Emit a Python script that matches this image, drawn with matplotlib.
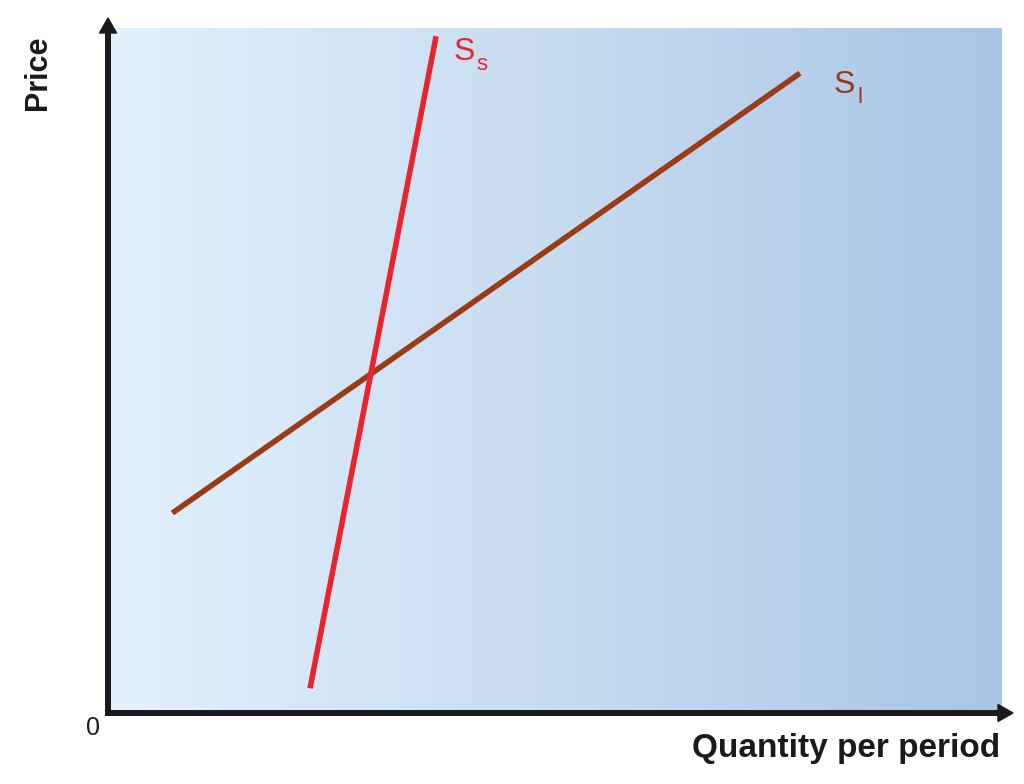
import matplotlib.pyplot as plt
import numpy as np
from matplotlib.colors import LinearSegmentedColormap
from matplotlib.patches import Polygon

plt.rcParams['font.family'] = ['Liberation Sans', 'DejaVu Sans']

# supply curves (arbitrary quantity / price units, 0-100)
ss_q = [22.6, 36.7]
ss_p = [3.6, 98.8]
sl_q = [7.2, 77.4]
sl_p = [29.2, 93.4]

RED = '#e8242e'
BROWN = '#9a3b16'
INK = '#1a1a1a'

fig = plt.figure(figsize=(10.24, 7.84), dpi=100)
fig.patch.set_facecolor('white')
# axes box in pixels: left 108, right 1002, bottom 713, top 28
ax = fig.add_axes([108/1024, (784-713)/784, 894/1024, 685/784])
ax.set_xlim(0, 100)
ax.set_ylim(0, 100)

# background gradient
cmap = LinearSegmentedColormap.from_list('bg', ['#e2f2fd', '#c8dcf0', '#a9c5e7'])
grad = np.linspace(0, 1, 256).reshape(1, -1)
ax.imshow(grad, cmap=cmap, extent=[0, 100, 0, 100], aspect='auto', zorder=0)

ax.plot(ss_q, ss_p, color=RED, lw=4, solid_capstyle='butt', zorder=3)
ax.plot(sl_q, sl_p, color=BROWN, lw=4, solid_capstyle='butt', zorder=2)

# labels
ax.text(ss_q[1] + 1.9, ss_p[1] - 3.5, 'S', color=RED, fontsize=23, ha='left', va='baseline')
ax.text(ss_q[1] + 4.5, ss_p[1] - 5.0, 's', color=RED, fontsize=16, ha='left', va='baseline')
ax.text(sl_q[1] + 3.7, sl_p[1] - 2.9, 'S', color=BROWN, fontsize=23, ha='left', va='baseline')
ax.text(sl_q[1] + 6.4, sl_p[1] - 4.4, 'l', color=BROWN, fontsize=16, ha='left', va='baseline')

for s in ax.spines.values():
    s.set_visible(False)
ax.set_xticks([])
ax.set_yticks([])

# axis lines with arrow heads (axes fraction)
tr = ax.transAxes
ax.plot([0, 0], [0, 0.995], color=INK, lw=4.3, transform=tr, clip_on=False,
        solid_capstyle='projecting', zorder=4)
ax.plot([0, 0.997], [0, 0], color=INK, lw=4.3, transform=tr, clip_on=False,
        solid_capstyle='projecting', zorder=4)
ax.add_patch(Polygon([[0, 1.0146], [-0.0095, 0.9927], [0.0095, 0.9927]], closed=True,
                     transform=tr, clip_on=False, color=INK, zorder=5))
ax.add_patch(Polygon([[1.0123, 0], [0.9955, 0.0124], [0.9955, -0.0124]], closed=True,
                     transform=tr, clip_on=False, color=INK, zorder=5))

fig.text(38/1024, 1 - 73/784, 'Price', rotation=90, fontsize=22, fontweight='bold',
         color=INK, ha='center', va='center')
fig.text(1000/1024, 1 - 748/784, 'Quantity per period', fontsize=24, fontweight='bold',
         color=INK, ha='right', va='center')
fig.text(93/1024, 1 - 728/784, '0', fontsize=18, color=INK, ha='center', va='center')

fig.savefig('out.png', dpi=100)
